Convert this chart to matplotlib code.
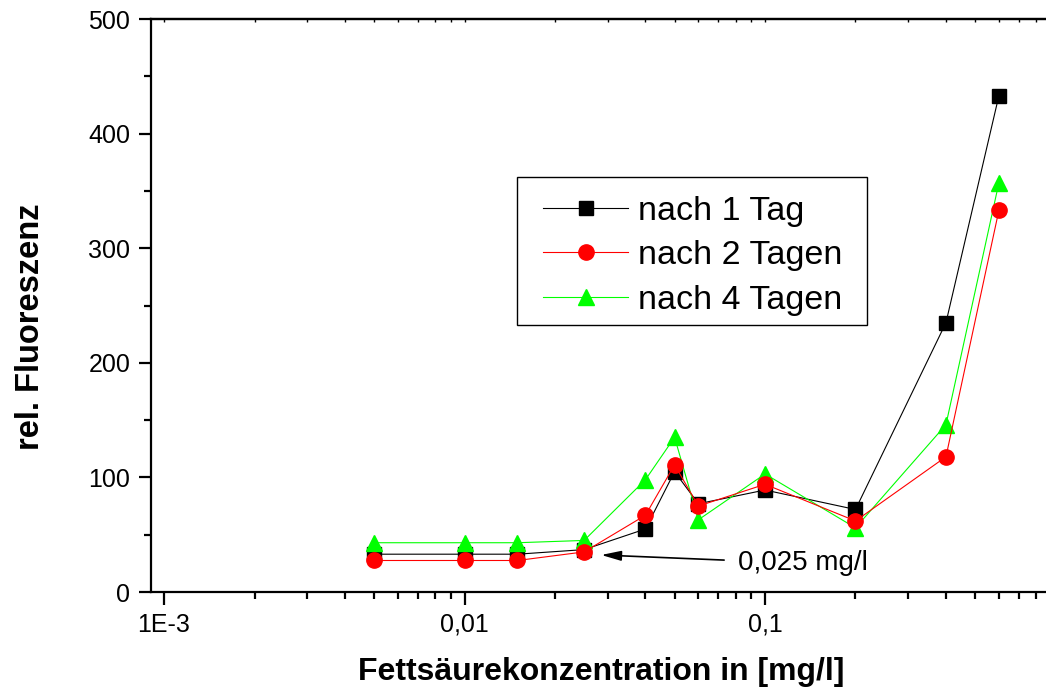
import matplotlib
matplotlib.use("Agg")
import matplotlib.pyplot as plt
from matplotlib.patches import Rectangle
from matplotlib.legend_handler import HandlerLine2D
from matplotlib.lines import Line2D
from matplotlib.ticker import FixedLocator, LogLocator, NullFormatter, MultipleLocator

plt.rcParams['font.family'] = ['Liberation Sans', 'DejaVu Sans']

# Fettsäurekonzentration [mg/l]
konzentration = [0.005, 0.01, 0.015, 0.025, 0.04, 0.05, 0.06, 0.1, 0.2, 0.4, 0.6]

# relative Fluoreszenz
tag1 = [33, 33, 33, 37, 55, 105, 77, 89, 72, 235, 433]
tage2 = [27.5, 27.5, 27.5, 35, 67, 111, 75, 94, 62, 118, 333]
tage4 = [43, 43, 43, 45, 98, 135, 63, 103, 56, 146, 357]

serien_namen = ["nach 1 Tag", "nach 2 Tagen", "nach 4 Tagen"]
x_ticks = [0.001, 0.01, 0.1]
x_ticklabels = ["1E-3", "0,01", "0,1"]
y_ticks = [0, 100, 200, 300, 400, 500]

GRUEN = '#00ff00'
ROT = '#ff0000'

fig = plt.figure(figsize=(10.46, 6.92), dpi=100)
ax = fig.add_axes([0.1444, 0.1445, 0.8556, 0.828])

ax.plot(konzentration, tag1, color='black', lw=0.8, marker='s', ms=9.5,
        mfc='black', mec='black', label=serien_namen[0], zorder=3)
ax.plot(konzentration, tage2, color=ROT, lw=0.8, marker='o', ms=11,
        mfc=ROT, mec=ROT, label=serien_namen[1], zorder=4)
ax.plot(konzentration, tage4, color=GRUEN, lw=0.8, marker='^', ms=12,
        mfc=GRUEN, mec=GRUEN, label=serien_namen[2], zorder=3.5)

ax.set_xscale('log')
ax.set_xlim(10 ** -3.0433, 10 ** -0.065)
ax.set_ylim(0, 500)

ax.xaxis.set_major_locator(FixedLocator(x_ticks))
ax.set_xticklabels(x_ticklabels)
ax.xaxis.set_minor_locator(LogLocator(base=10, subs=range(2, 10)))
ax.xaxis.set_minor_formatter(NullFormatter())
ax.yaxis.set_major_locator(FixedLocator(y_ticks))
ax.yaxis.set_minor_locator(MultipleLocator(50))

for s in ['left', 'bottom', 'top']:
    ax.spines[s].set_linewidth(1.6)
ax.spines['right'].set_visible(False)

ax.tick_params(axis='both', which='major', direction='out', length=9, width=1.6,
               labelsize=18, pad=6)
ax.tick_params(axis='both', which='minor', direction='out', length=5, width=1.6)

# tiny inward ticks along the top edge
top = ax.secondary_xaxis('top')
top.xaxis.set_major_locator(FixedLocator(x_ticks))
top.xaxis.set_minor_locator(LogLocator(base=10, subs=range(2, 10)))
top.xaxis.set_major_formatter(NullFormatter())
top.xaxis.set_minor_formatter(NullFormatter())
top.tick_params(which='both', direction='in', length=2, width=1)
top.spines['top'].set_linewidth(1.6)

ax.set_xlabel("Fettsäurekonzentration in [mg/l]", fontsize=23, fontweight='bold')
ax.set_ylabel("rel. Fluoreszenz", fontsize=23.5, fontweight='bold')
ax.xaxis.label.set_va('center')
ax.yaxis.label.set_va('center')
ax.xaxis.set_label_coords(0.503, -0.14)
ax.yaxis.set_label_coords(-0.135, 0.4625)

ax.annotate("0,025 mg/l", xy=(0.0285, 32.3), xytext=(0.0813, 25),
            fontsize=20, va='center', ha='left',
            arrowprops=dict(arrowstyle='-|>,head_length=0.6,head_width=0.15',
                            color='black', lw=1.2, mutation_scale=20,
                            shrinkA=8, shrinkB=0))

# legend frame and entries
ax.add_patch(Rectangle((0.409, 0.466), 0.391, 0.258, transform=ax.transAxes,
                       fill=True, facecolor='white', edgecolor='black',
                       lw=1.0, zorder=5))
leg = ax.legend(loc='upper left', bbox_to_anchor=(0.438, 0.691), fontsize=24.5,
                frameon=False, handlelength=2.5, borderpad=0, labelspacing=0.39,
                handletextpad=0.3, borderaxespad=0,
                handler_map={Line2D: HandlerLine2D()})
leg.set_zorder(6)

fig.savefig("out.png", dpi=100)
